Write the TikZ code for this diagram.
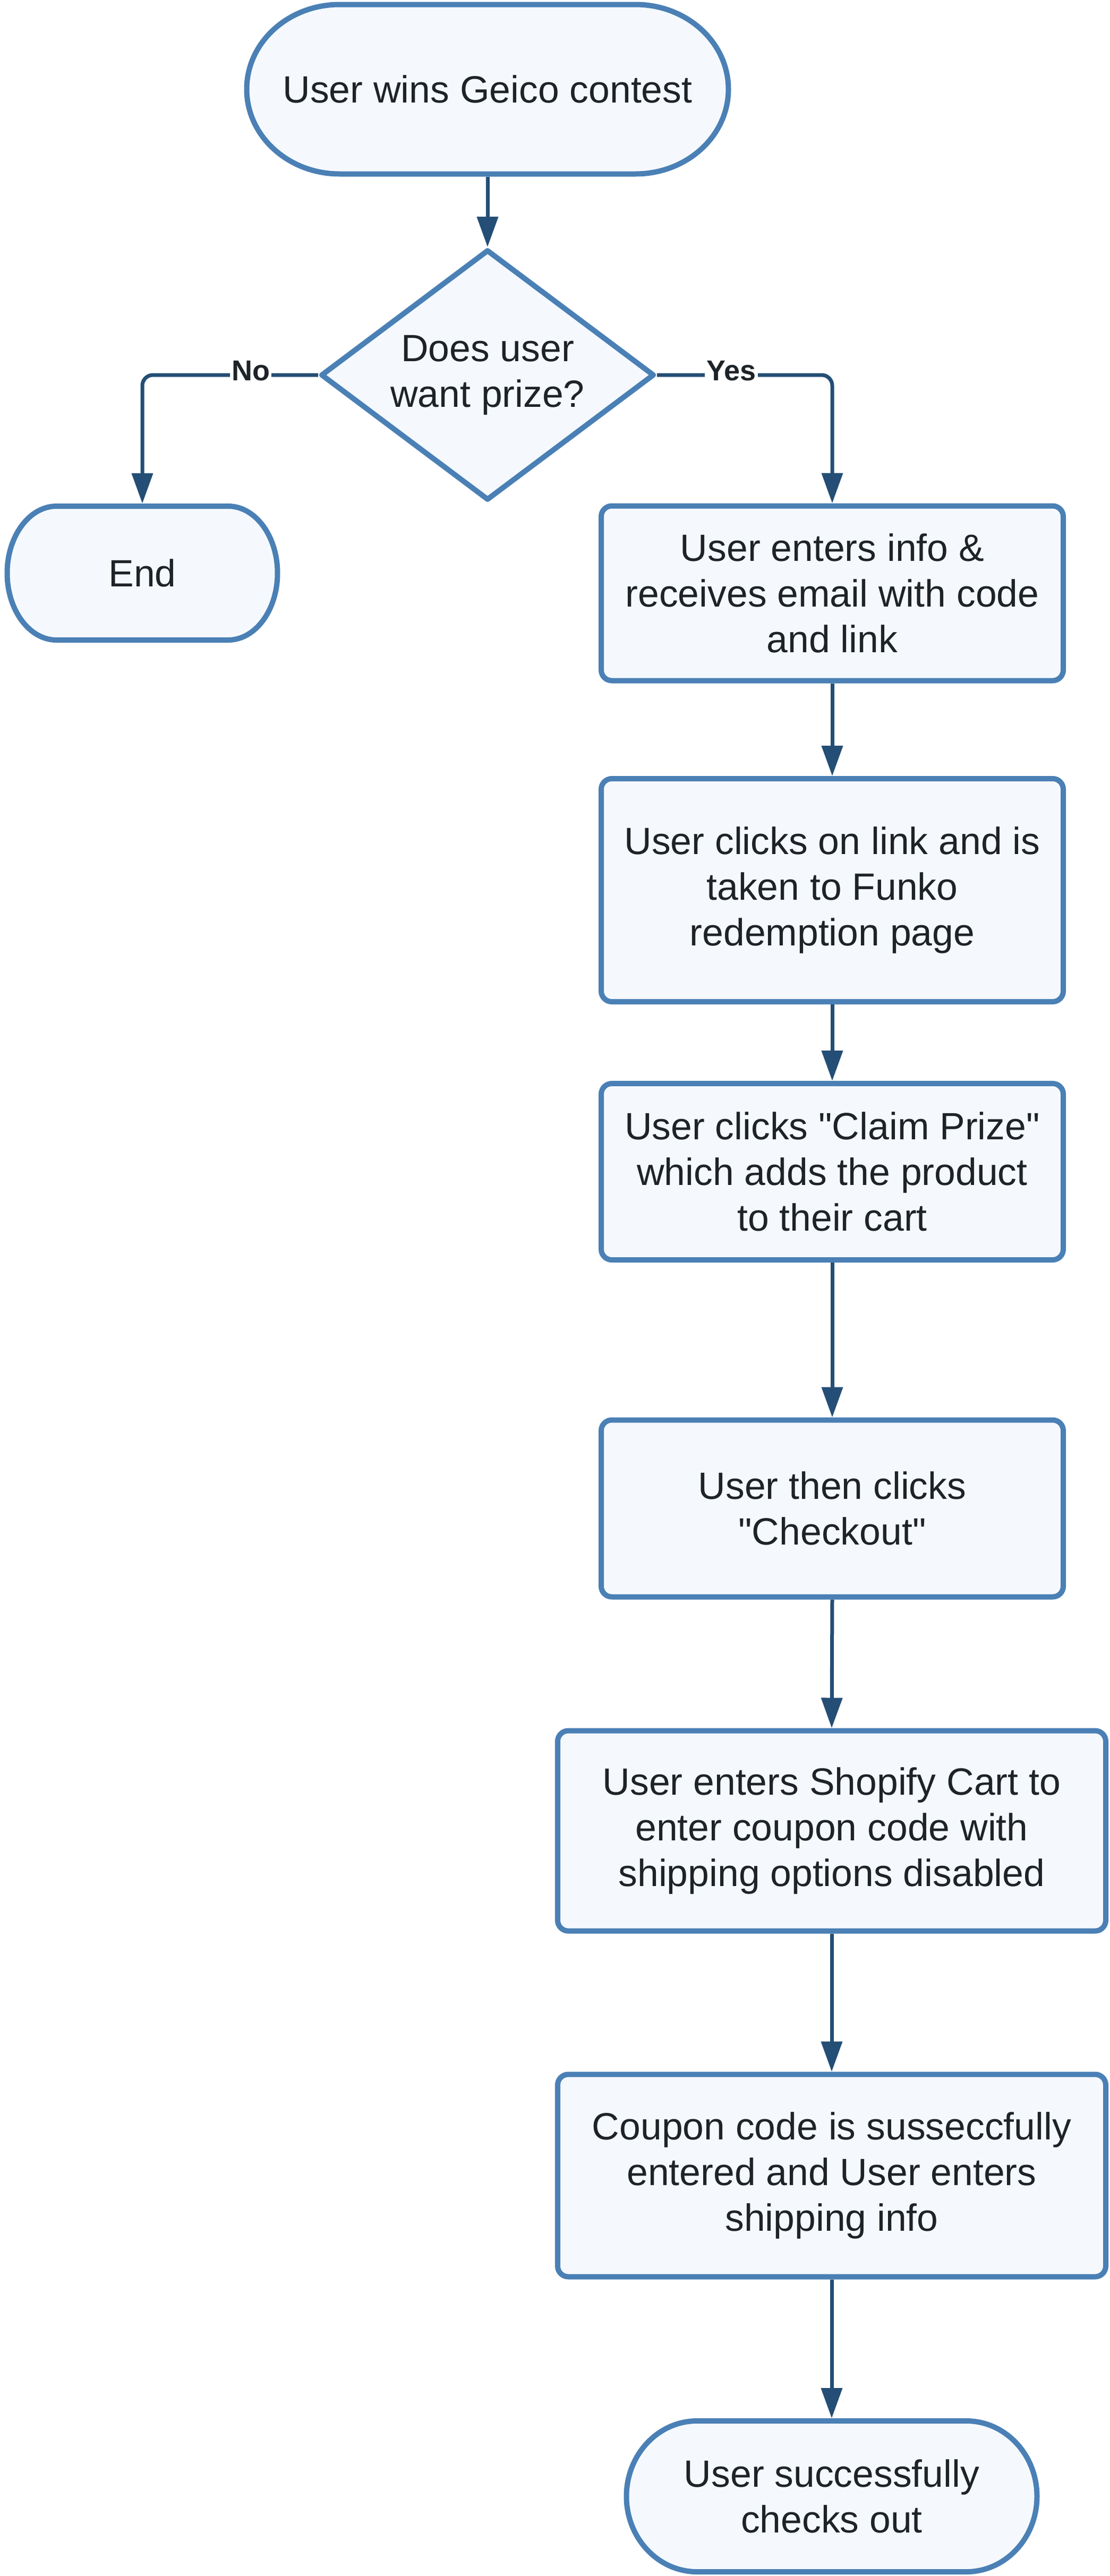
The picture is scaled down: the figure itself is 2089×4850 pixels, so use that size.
\documentclass[tikz,border=0pt]{standalone}
\usepackage{fontspec}
\newfontfamily\lib{Liberation Sans}
\usetikzlibrary{arrows.meta,shapes.geometric,backgrounds,calc}
\definecolor{bord}{HTML}{4A80B5}
\definecolor{fillc}{HTML}{F5F9FD}
\definecolor{connc}{HTML}{244E75}
\definecolor{txt}{HTML}{1E2328}
\tikzset{
 mainfont/.style={font=\lib\fontsize{71.5pt}{86pt}\selectfont},
 boxnode/.style={rectangle, draw=bord, fill=fillc, line width=10pt, rounded corners=20pt, inner sep=0pt, align=center, text=txt, mainfont},
 termnode/.style={rectangle, inner sep=0pt, outer sep=0pt, align=center, text=txt, mainfont},
 termfill/.style={draw=bord, fill=fillc, line width=10pt},
 decnode/.style={diamond, aspect=1.33, draw=bord, fill=fillc, line width=10pt, line join=round, inner sep=0pt, align=center, text=txt, mainfont},
 conn/.style={draw=connc, line width=7pt, -{Triangle[length=57pt,width=39pt]}},
 lbl/.style={fill=white, inner sep=3pt, text=txt, font=\lib\bfseries\fontsize{54pt}{60pt}\selectfont},
}
\newcommand\termpath[2]{\path[termfill] let \p1=(#1.north east), \p2=(#1.south west), \n1={(\y1-\y2)/2} in (\x2+#2,\y1) -- (\x1-#2,\y1) arc[start angle=90,end angle=-90,x radius=#2,y radius=\n1] -- (\x2+#2,\y2) arc[start angle=270,end angle=90,x radius=#2,y radius=\n1] -- cycle;}
\begin{document}
\begin{tikzpicture}[x=1pt,y=-1pt]
\useasboundingbox (0,0) rectangle (2089,4850);
\node[termnode, minimum width=907pt, minimum height=319pt] (start) at (918,168) {User wins Geico contest};
\node[decnode, minimum width=628pt, minimum height=472pt] (dec) at (918,706) {Does user\\want prize?};
\node[termnode, minimum width=509pt, minimum height=252pt] (endL) at (268,1079) {End};
\node[boxnode, minimum width=870pt, minimum height=329pt] (b1) at (1567,1117) {User enters info \&\\receives email with code\\and link};
\node[boxnode, minimum width=870pt, minimum height=420pt] (b2) at (1567,1676) {User clicks on link and is\\taken to Funko\\redemption page};
\node[boxnode, minimum width=870pt, minimum height=332pt] (b3) at (1567,2206) {User clicks "Claim Prize"\\which adds the product\\to their cart};
\node[boxnode, minimum width=870pt, minimum height=333pt] (b4) at (1567,2840) {User then clicks\\"Checkout"};
\node[boxnode, minimum width=1032pt, minimum height=377pt] (b5) at (1566,3447) {User enters Shopify Cart to\\enter coupon code with\\shipping options disabled};
\node[boxnode, minimum width=1032pt, minimum height=381pt] (b6) at (1566,4096) {Coupon code is susseccfully\\entered and User enters\\shipping info};
\node[termnode, minimum width=773pt, minimum height=284pt] (endR) at (1566,4700) {User successfully\\checks out};
\begin{scope}[on background layer]
\termpath{start}{175pt}
\termpath{endL}{93pt}
\termpath{endR}{133pt}
\end{scope}
\draw[conn, shorten <=5pt] (start.south) -- (dec.north);
\draw[conn, rounded corners=20pt, shorten >=5pt] (dec.west) -| (endL.north);
\node[lbl] (noLbl) at (472,698) {No};
\draw[conn, rounded corners=20pt] (dec.east) -| (b1.north);
\node[lbl] (yesLbl) at (1377,698) {Yes};
\draw[conn] (b1.south) -- (b2.north);
\draw[conn] (b2.south) -- (b3.north);
\draw[conn] (b3.south) -- (b4.north);
\draw[conn] (b4.south) -- (b5.north);
\draw[conn] (b5.south) -- (b6.north);
\draw[conn, shorten >=5pt] (b6.south) -- (endR.north);
\end{tikzpicture}
\end{document}
